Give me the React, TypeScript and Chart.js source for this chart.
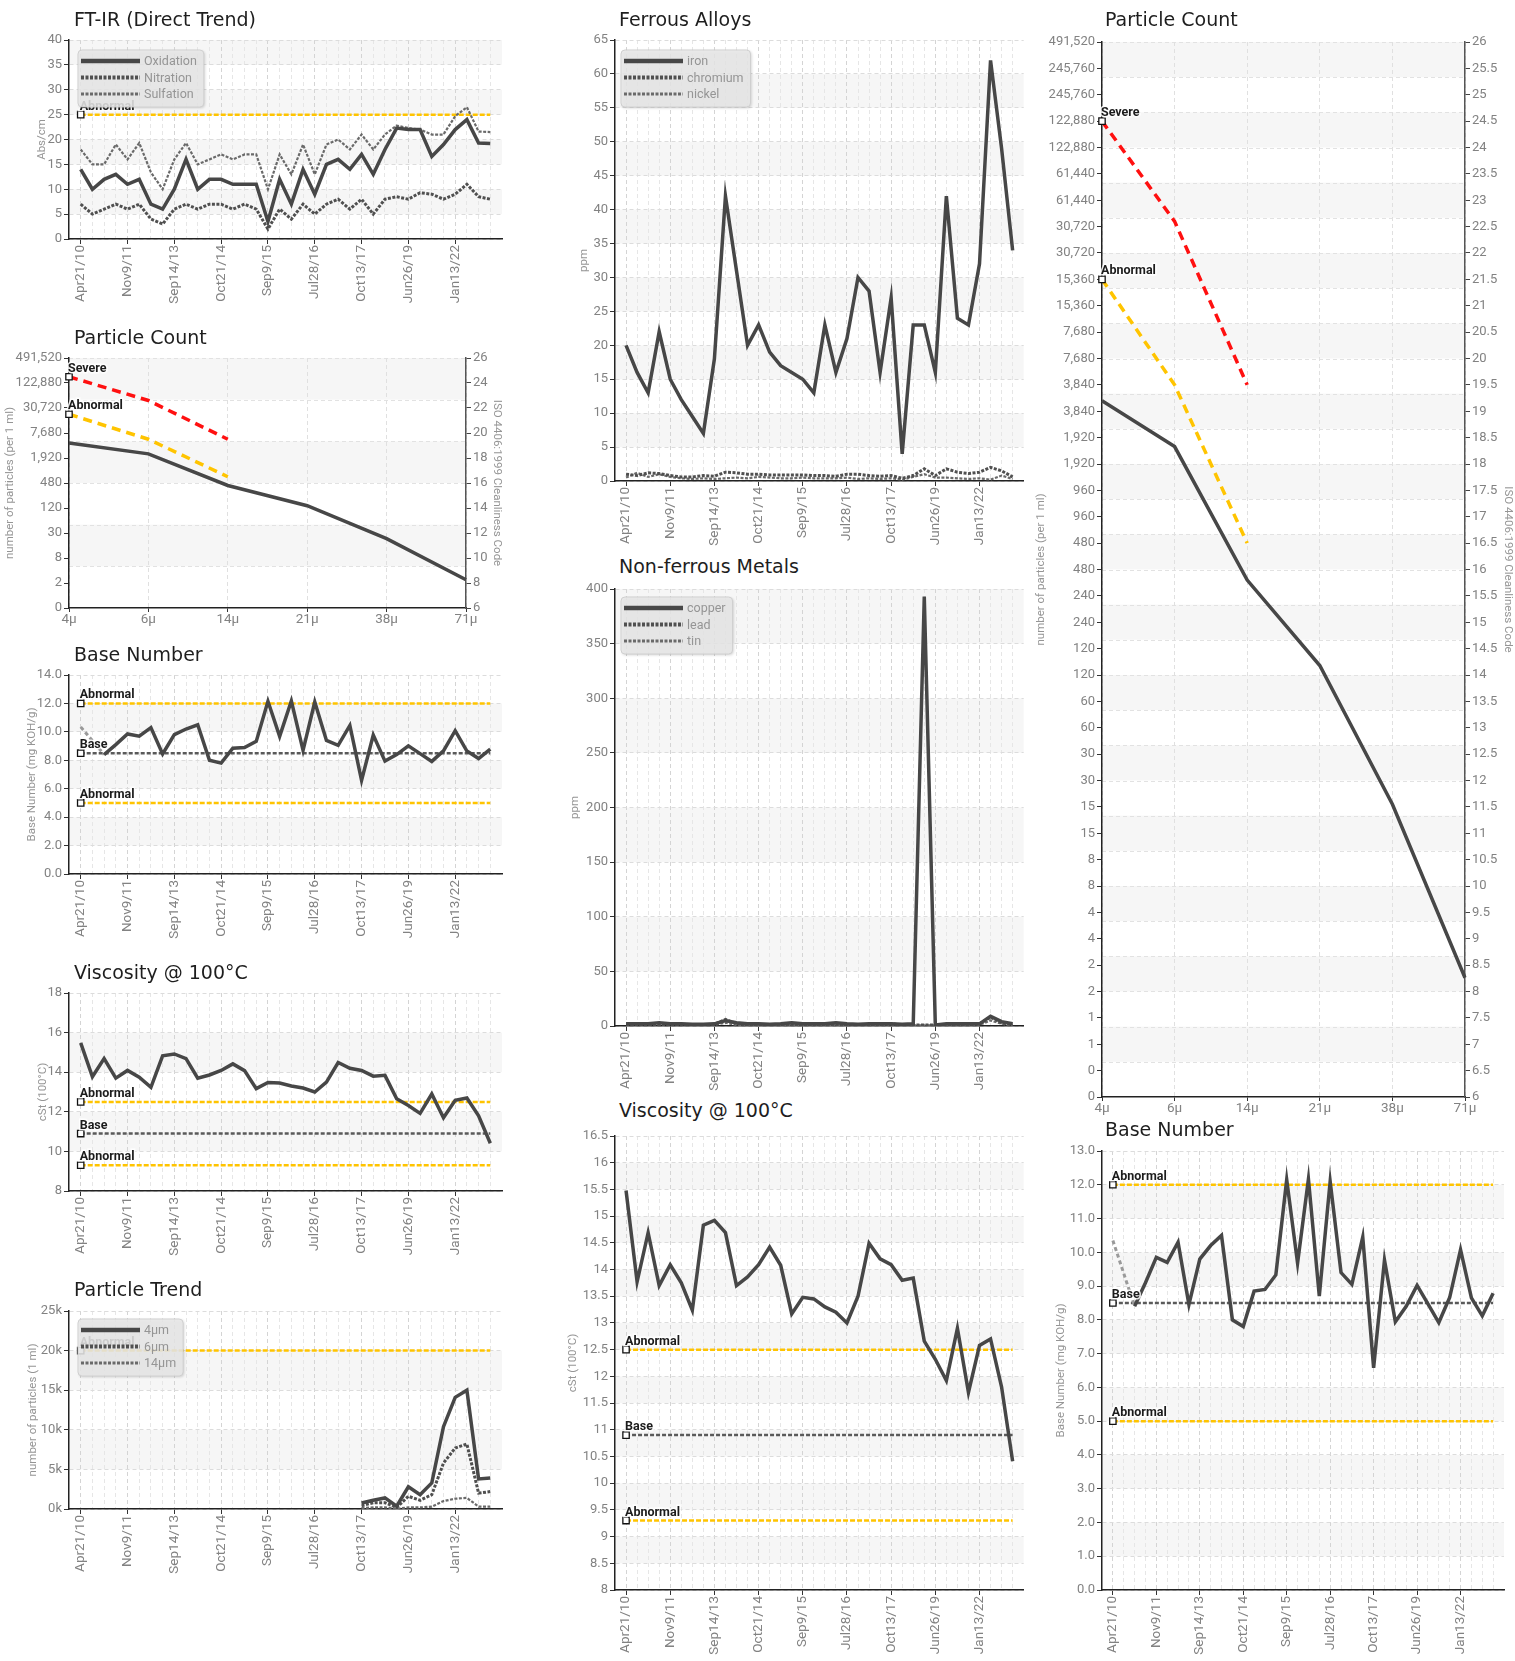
import React, { useEffect, useRef, useState } from 'react';
import { Chart, registerables } from 'chart.js';

Chart.register(...registerables);

const NARROW = 'Roboto, "Liberation Sans Narrow", sans-serif';
const TITLE_FONT = '"DejaVu Sans", Verdana, sans-serif';
const TICK_COLOR = '#828282';
const AXIS_TITLE_COLOR = '#959595';
const DARK = '#474747';
const YELLOW = '#ffc400';
const RED = '#ff1010';

// ---------------- data ----------------
const dateTicks = ['Apr21/10', 'Nov9/11', 'Sep14/13', 'Oct21/14', 'Sep9/15', 'Jul28/16', 'Oct13/17', 'Jun26/19', 'Jan13/22'];
const sampleCount = 36;
const tickEvery = 4;

const ftirOxidation = [14, 10, 12, 13, 11, 12, 7, 6, 10, 16, 10, 12, 12, 11, 11, 11, 3.5, 12, 7, 14, 9, 15, 16, 14, 17, 13, 18, 22.3, 22, 22, 16.6, 19, 22, 24, 19.3, 19.2];
const ftirNitration = [7, 5, 6, 7, 6, 7, 4, 3, 6, 7, 6, 7, 7, 6, 7, 6, 2, 6, 4, 7, 5, 7, 8, 6, 8, 5, 8, 8.5, 8, 9.3, 9, 8, 9, 11, 8.5, 8];
const ftirSulfation = [18, 15, 15, 19, 16, 19.3, 13.4, 10, 16, 19.3, 15, 16, 17, 16, 17, 17, 10, 17, 13, 19, 13, 19, 20, 18, 21, 18, 21, 22.8, 22.3, 22, 21, 21, 24.7, 26.5, 21.6, 21.5];
const ftirAbnormal = 25;

const ironPpm = [20, 16, 13, 22, 15, 12, 9.5, 7, 18, 42, 31, 20, 23, 19, 17, 16, 15, 13, 23, 16, 21, 30, 28, 16, 27, 4, 23, 23, 16, 42, 24, 23, 32, 62, 49, 34];
const chromiumPpm = [1, 0.8, 1.2, 1.1, 0.8, 0.6, 0.6, 0.8, 0.7, 1.3, 1.2, 1.0, 1.0, 0.9, 0.9, 0.9, 0.9, 0.8, 0.8, 0.7, 1.0, 1.0, 0.8, 0.7, 0.8, 0.4, 0.8, 1.8, 0.8, 1.8, 1.3, 1.1, 1.3, 2.0, 1.5, 0.6];
const nickelPpm = [0.5, 1.2, 0.6, 1.0, 0.6, 0.4, 0.3, 0.4, 0.3, 0.4, 0.5, 0.4, 0.6, 0.5, 0.4, 0.4, 0.5, 0.4, 0.4, 0.4, 0.5, 0.3, 0.4, 0.3, 0.4, 0.2, 0.6, 1.0, 0.5, 0.5, 0.4, 0.3, 0.4, 0.2, 0.8, 0.3];

const copperPpm = [2, 2, 2, 3, 2, 2, 1.5, 1.5, 2, 5, 3, 2, 2, 1.5, 2, 3, 2, 2, 2, 3, 2, 1.5, 2, 2, 2, 1.5, 2, 393, 1, 2, 2, 2, 2, 9, 4, 2];
const leadPpm = [1, 1, 1, 1.5, 1, 1, 1, 1, 1.5, 6, 2, 1, 1, 1, 1, 1, 1, 1, 1, 1, 1, 1, 1, 1, 2, 1, 1, 1, 1, 1, 1, 1, 2, 8, 3, 1];
const tinPpm = [0.5, 0.5, 0.5, 1, 0.5, 0.5, 0.5, 0.5, 1, 3, 1, 0.5, 0.5, 0.5, 0.5, 0.5, 0.5, 0.5, 0.5, 0.5, 0.5, 0.5, 0.5, 0.5, 1, 0.5, 0.5, 0.5, 0.5, 0.5, 0.5, 0.5, 1, 5, 2, 0.5];

const baseNumberStart = 2;
const baseNumber = [8.4, 9.1, 9.85, 9.7, 10.3, 8.45, 9.8, 10.2, 10.5, 8.0, 7.8, 8.85, 8.9, 9.33, 12.15, 9.68, 12.17, 8.7, 12.1, 9.4, 9.05, 10.45, 6.58, 9.77, 7.94, 8.4, 9.02, 8.47, 7.92, 8.66, 10.08, 8.65, 8.12, 8.79];
const baseNumberNewOil = [10.35, null, 8.4];
const bnAbnormalHigh = 12;
const bnBase = 8.5;
const bnAbnormalLow = 5;

const viscosity = [15.48, 13.77, 14.69, 13.7, 14.09, 13.75, 13.24, 14.83, 14.92, 14.69, 13.7, 13.86, 14.09, 14.42, 14.08, 13.17, 13.48, 13.45, 13.3, 13.2, 13.0, 13.5, 14.49, 14.2, 14.09, 13.8, 13.84, 12.66, 12.32, 11.92, 12.9, 11.7, 12.58, 12.7, 11.8, 10.41];
const viscAbnormalHigh = 12.5;
const viscBase = 10.9;
const viscAbnormalLow = 9.3;

const trendStart = 24;
const trend4um = [750, 1100, 1400, 350, 2800, 1800, 3300, 10400, 14100, 15000, 3800, 3900];
const trend6um = [400, 800, 800, 200, 1600, 1100, 1800, 5800, 7700, 8200, 2000, 2200];
const trend14um = [100, 200, 200, 50, 200, 200, 300, 1000, 1300, 1400, 300, 300];
const trendAbnormal = 20000;

const particleSizes = ['4µ', '6µ', '14µ', '21µ', '38µ', '71µ'];
const particleIsoCode = [19.2, 18.33, 15.8, 14.18, 11.55, 8.26];
const particleSevere = [24.5, 22.6, 19.5];
const particleAbnormal = [21.5, 19.5, 16.5];
const isoCountLabels = ['0', '2', '8', '30', '120', '480', '1,920', '7,680', '30,720', '122,880', '491,520'];
const isoCountLabelsHalf = ['0', '0', '1', '1', '2', '2', '4', '4', '8', '8', '15', '15', '30', '30', '60', '60', '120', '120', '240', '240', '480', '480', '960', '960', '1,920', '1,920', '3,840', '3,840', '7,680', '7,680', '15,360', '15,360', '30,720', '30,720', '61,440', '61,440', '122,880', '122,880', '245,760', '245,760', '491,520'];

const sampleLabels: string[] = [];
for (let i = 0; i < sampleCount; i++) sampleLabels.push(i % tickEvery === 0 ? dateTicks[i / tickEvery] : '');
const sampleTickValues: number[] = [];
for (let i = 0; i < sampleCount; i++) sampleTickValues.push(i);

// ---------------- plugins ----------------
const bandsPlugin = {
  id: 'bands',
  beforeDraw(chart: any, _a: any, opts: any) {
    if (!opts || !opts.mode) return;
    const ctx = chart.ctx;
    const a = chart.chartArea;
    const y = chart.scales.y;
    ctx.save();
    ctx.fillStyle = 'rgba(0,0,0,0.035)';
    if (opts.mode === 'ticks') {
      const ticks = y.ticks;
      for (let i = 0; i < ticks.length - 1; i++) {
        if (i % 2 === 1) {
          const y1 = y.getPixelForValue(ticks[i].value);
          const y2 = y.getPixelForValue(ticks[i + 1].value);
          ctx.fillRect(a.left, y2, a.right - a.left, y1 - y2);
        }
      }
    } else {
      const n = opts.count;
      const h = (a.bottom - a.top) / n;
      for (let k = 0; k < n; k += 2) ctx.fillRect(a.left, a.top + k * h, a.right - a.left, h);
      ctx.strokeStyle = '#e2e2e2';
      ctx.lineWidth = 1;
      ctx.setLineDash([4, 3]);
      for (let k = 0; k < n; k++) {
        const yy = Math.round(a.top + k * h) + 0.5;
        ctx.beginPath();
        ctx.moveTo(a.left, yy);
        ctx.lineTo(a.right, yy);
        ctx.stroke();
      }
    }
    ctx.restore();
  },
};

const thresholdLabelPlugin = {
  id: 'thr',
  afterDatasetsDraw(chart: any, _a: any, opts: any) {
    const items = (opts && opts.items) || [];
    const ctx = chart.ctx;
    const scales = chart.scales;
    ctx.save();
    ctx.font = `bold 12.5px ${NARROW}`;
    ctx.textAlign = 'left';
    ctx.textBaseline = 'alphabetic';
    items.forEach((it: any) => {
      const px = scales.x.getPixelForValue(it.x);
      const py = scales.y.getPixelForValue(it.y);
      ctx.lineWidth = 3;
      ctx.strokeStyle = 'rgba(255,255,255,0.85)';
      ctx.strokeText(it.label, px - 1, py - 5);
      ctx.fillStyle = '#1c1c1c';
      ctx.fillText(it.label, px - 1, py - 5);
    });
    ctx.restore();
  },
};

const boxLegendPlugin = {
  id: 'boxLegend',
  afterDraw(chart: any, _a: any, opts: any) {
    if (!opts || !opts.entries || !opts.entries.length) return;
    const ctx = chart.ctx;
    const a = chart.chartArea;
    ctx.save();
    ctx.font = `12.5px ${NARROW}`;
    let textW = 0;
    opts.entries.forEach((e: any) => {
      textW = Math.max(textW, ctx.measureText(e.label).width);
    });
    const x = a.left + opts.dx;
    const y = a.top + opts.dy;
    const w = 66 + textW + 7;
    const h = 11 + (opts.entries.length - 1) * 16.5 + 13;
    const rr = 4;
    ctx.shadowColor = 'rgba(0,0,0,0.22)';
    ctx.shadowBlur = 3;
    ctx.shadowOffsetX = 1;
    ctx.shadowOffsetY = 1;
    ctx.beginPath();
    ctx.moveTo(x + rr, y);
    ctx.lineTo(x + w - rr, y);
    ctx.quadraticCurveTo(x + w, y, x + w, y + rr);
    ctx.lineTo(x + w, y + h - rr);
    ctx.quadraticCurveTo(x + w, y + h, x + w - rr, y + h);
    ctx.lineTo(x + rr, y + h);
    ctx.quadraticCurveTo(x, y + h, x, y + h - rr);
    ctx.lineTo(x, y + rr);
    ctx.quadraticCurveTo(x, y, x + rr, y);
    ctx.closePath();
    ctx.fillStyle = 'rgba(233,233,233,0.86)';
    ctx.fill();
    ctx.shadowColor = 'rgba(0,0,0,0)';
    ctx.shadowBlur = 0;
    ctx.strokeStyle = 'rgba(205,205,205,0.9)';
    ctx.lineWidth = 1;
    ctx.stroke();
    opts.entries.forEach((e: any, i: number) => {
      const cy = y + 11 + i * 16.5;
      ctx.beginPath();
      ctx.setLineDash(e.dash || []);
      ctx.lineWidth = e.width + 1;
      ctx.strokeStyle = e.color;
      ctx.moveTo(x + 3, cy);
      ctx.lineTo(x + 62, cy);
      ctx.stroke();
      ctx.setLineDash([]);
      ctx.fillStyle = '#959595';
      ctx.textBaseline = 'middle';
      ctx.fillText(e.label, x + 66, cy + 1);
    });
    ctx.restore();
  },
};

// ---------------- config builders ----------------
function yTitle(text: string, titleX: number, cx: number) {
  return {
    display: true,
    text,
    color: AXIS_TITLE_COLOR,
    font: { family: NARROW, size: 11.5 },
    padding: { top: Math.max(0, titleX - cx - 6.9), bottom: 0 },
  };
}

function markerRadius(c: any) {
  return c.dataIndex === 0 ? 4.5 : 0;
}

function timeConfig(p: any) {
  const { cx, cy, cw, ch, l, t, r, b } = p.box;
  const datasets: any[] = [];
  p.series.forEach((s: any) => {
    const pts: any[] = [];
    s.values.forEach((v: any, i: number) => pts.push({ x: (s.start || 0) + i, y: v }));
    datasets.push({
      label: s.label,
      data: pts,
      borderColor: s.color,
      borderWidth: s.width,
      borderDash: s.dash || [],
      pointRadius: 0,
      tension: 0,
      spanGaps: !!s.spanGaps,
      fill: false,
    });
  });
  (p.thresholds || []).forEach((th: any) =>
    datasets.push({
      label: th.label,
      data: [
        { x: 0, y: th.value },
        { x: sampleCount - 1, y: th.value },
      ],
      borderColor: th.color,
      borderWidth: 2.5,
      borderDash: th.dash,
      pointRadius: markerRadius,
      pointStyle: 'rect',
      pointBackgroundColor: '#fff',
      pointBorderColor: '#111',
      pointBorderWidth: 1.3,
      tension: 0,
      fill: false,
    })
  );
  return {
    type: 'line',
    data: { datasets },
    options: {
      responsive: false,
      animation: false,
      events: [],
      layout: { padding: { left: 0, top: t - cy, right: cx + cw - r, bottom: 0 } },
      plugins: {
        legend: { display: false },
        tooltip: { enabled: false },
        bands: { mode: 'ticks' },
        thr: { items: (p.thresholds || []).map((th: any) => ({ x: 0, y: th.value, label: th.label })) },
        boxLegend: p.legend || { entries: [] },
      },
      scales: {
        x: {
          type: 'linear',
          min: -1,
          max: sampleCount,
          afterBuildTicks: (sc: any) => {
            sc.ticks = sampleTickValues.map((v) => ({ value: v }));
          },
          afterFit: (sc: any) => {
            sc.height = cy + ch - b;
          },
          ticks: {
            autoSkip: false,
            maxRotation: 90,
            minRotation: 90,
            padding: 1,
            font: { family: NARROW, size: 13.5 },
            color: TICK_COLOR,
            callback: (v: any) => {
              const s = sampleLabels[Math.round(v)];
              return s === undefined ? '' : s;
            },
          },
          grid: {
            color: (c: any) => (c.tick && Math.round(c.tick.value) % tickEvery === 0 ? '#d4d4d4' : '#e6e6e6'),
            tickColor: (c: any) => (c.tick && Math.round(c.tick.value) % tickEvery === 0 ? '#333' : 'rgba(0,0,0,0)'),
            tickLength: 5,
            lineWidth: 1,
          },
          border: { display: true, color: '#222', width: 1.5, dash: [4, 3] },
        },
        y: {
          type: 'linear',
          min: p.y.min,
          max: p.y.max,
          afterFit: (sc: any) => {
            sc.width = l - cx;
          },
          ticks: {
            stepSize: p.y.step,
            maxTicksLimit: 100,
            autoSkip: false,
            padding: 2,
            font: { family: NARROW, size: 13 },
            color: TICK_COLOR,
            callback: p.y.fmt,
          },
          grid: { color: '#dcdcdc', tickColor: '#333', tickLength: 5, lineWidth: 1 },
          border: { display: true, color: '#222', width: 1.5, dash: [4, 3] },
          title: yTitle(p.y.title, p.y.titleX, cx),
        },
      },
    },
    plugins: [bandsPlugin, thresholdLabelPlugin, boxLegendPlugin],
  };
}

function particleConfig(p: any) {
  const { cx, cy, cw, ch, l, t, r, b } = p.box;
  const labelFor = (v: number) => {
    const s = p.labels[Math.round((v - 6) / p.step)];
    return s === undefined ? '' : s;
  };
  return {
    type: 'line',
    data: {
      labels: particleSizes,
      datasets: [
        { label: 'count', data: particleIsoCode, borderColor: DARK, borderWidth: 3.5, pointRadius: 0, tension: 0, fill: false },
        {
          label: 'Severe',
          data: particleSevere,
          borderColor: RED,
          borderWidth: 3.5,
          borderDash: [9, 6],
          pointRadius: markerRadius,
          pointStyle: 'rect',
          pointBackgroundColor: '#fff',
          pointBorderColor: '#111',
          pointBorderWidth: 1.3,
          tension: 0,
          fill: false,
        },
        {
          label: 'Abnormal',
          data: particleAbnormal,
          borderColor: YELLOW,
          borderWidth: 3.5,
          borderDash: [9, 6],
          pointRadius: markerRadius,
          pointStyle: 'rect',
          pointBackgroundColor: '#fff',
          pointBorderColor: '#111',
          pointBorderWidth: 1.3,
          tension: 0,
          fill: false,
        },
      ],
    },
    options: {
      responsive: false,
      animation: false,
      events: [],
      layout: { padding: { left: 0, top: t - cy, right: 0, bottom: 0 } },
      plugins: {
        legend: { display: false },
        tooltip: { enabled: false },
        bands: { mode: 'equal', count: p.bands },
        thr: {
          items: [
            { x: 0, y: particleSevere[0], label: 'Severe' },
            { x: 0, y: particleAbnormal[0], label: 'Abnormal' },
          ],
        },
      },
      scales: {
        x: {
          type: 'category',
          offset: false,
          afterFit: (sc: any) => {
            sc.height = cy + ch - b;
          },
          ticks: { maxRotation: 0, minRotation: 0, padding: 0, font: { family: NARROW, size: 13.5 }, color: TICK_COLOR },
          grid: { color: '#e0e0e0', tickColor: '#333', tickLength: 4 },
          border: { display: true, color: '#222', width: 1.5, dash: [4, 3] },
        },
        y: {
          type: 'linear',
          position: 'left',
          min: 6,
          max: 26,
          afterFit: (sc: any) => {
            sc.width = l - cx;
          },
          ticks: {
            stepSize: p.step,
            maxTicksLimit: 100,
            autoSkip: false,
            padding: 2,
            font: { family: NARROW, size: 13 },
            color: TICK_COLOR,
            callback: (v: any) => labelFor(v),
          },
          grid: { drawOnChartArea: false, tickColor: '#333', tickLength: 5 },
          border: { display: true, color: '#222', width: 1.5 },
          title: yTitle('number of particles (per 1 ml)', p.leftTitleX, cx),
        },
        y2: {
          type: 'linear',
          position: 'right',
          min: 6,
          max: 26,
          afterFit: (sc: any) => {
            sc.width = cx + cw - r;
          },
          ticks: {
            stepSize: p.step,
            maxTicksLimit: 100,
            autoSkip: false,
            padding: 2,
            font: { family: NARROW, size: 13 },
            color: TICK_COLOR,
            callback: (v: any) => String(Math.round(v * 10) / 10),
          },
          grid: { drawOnChartArea: false, tickColor: '#444', tickLength: 5 },
          border: { display: true, color: '#555', width: 1.5 },
          title: {
            display: true,
            text: 'ISO 4406:1999 Cleanliness Code',
            color: AXIS_TITLE_COLOR,
            font: { family: NARROW, size: 11.5 },
            padding: { top: Math.max(0, cx + cw - p.rightTitleX - 6.9), bottom: 0 },
          },
        },
      },
    },
    plugins: [bandsPlugin, thresholdLabelPlugin],
  };
}

// ---------------- panels ----------------
const fmtInt = (v: any) => String(v);
const fmt1 = (v: any) => Number(v).toFixed(1);
const fmtK = (v: any) => `${Math.round(v / 1000)}k`;

const solidEntry = (label: string) => ({ label, color: DARK, width: 3.5, dash: [] as number[] });
const dashEntry = (label: string) => ({ label, color: '#505050', width: 3, dash: [3, 1.5] });
const thinEntry = (label: string) => ({ label, color: '#6a6a6a', width: 2.2, dash: [3, 1.5] });

const panels: any[] = [
  {
    title: 'FT-IR (Direct Trend)',
    titlePos: { x: 74, y: 9.5 },
    box: { cx: 0, cy: 28, cw: 515, ch: 282, l: 69, t: 40, r: 502, b: 239 },
    kind: 'time',
    y: { min: 0, max: 40, step: 5, fmt: fmtInt, title: 'Abs/cm', titleX: 41.7 },
    series: [
      { label: 'Oxidation', values: ftirOxidation, color: DARK, width: 3.5 },
      { label: 'Nitration', values: ftirNitration, color: '#505050', width: 3, dash: [3, 1.5] },
      { label: 'Sulfation', values: ftirSulfation, color: '#6a6a6a', width: 2.2, dash: [3, 1.5] },
    ],
    thresholds: [{ label: 'Abnormal', value: ftirAbnormal, color: YELLOW, dash: [5, 2] }],
    legend: { dx: 9, dy: 10, entries: [solidEntry('Oxidation'), dashEntry('Nitration'), thinEntry('Sulfation')] },
  },
  {
    title: 'Particle Count',
    titlePos: { x: 74, y: 328 },
    box: { cx: 0, cy: 346, cw: 515, ch: 289, l: 69, t: 358, r: 466, b: 608 },
    kind: 'particle',
    step: 2,
    labels: isoCountLabels,
    bands: 6,
    leftTitleX: 10,
    rightTitleX: 497,
  },
  {
    title: 'Base Number',
    titlePos: { x: 74, y: 645 },
    box: { cx: 0, cy: 663, cw: 515, ch: 282, l: 69, t: 675, r: 502, b: 874 },
    kind: 'time',
    y: { min: 0, max: 14, step: 2, fmt: fmt1, title: 'Base Number (mg KOH/g)', titleX: 31.7 },
    series: [
      { label: 'Base Number', values: baseNumber, start: baseNumberStart, color: DARK, width: 3.5 },
      { label: 'New oil', values: baseNumberNewOil, color: '#9a9a9a', width: 3, dash: [4, 3], spanGaps: true },
    ],
    thresholds: [
      { label: 'Abnormal', value: bnAbnormalHigh, color: YELLOW, dash: [5, 2] },
      { label: 'Base', value: bnBase, color: '#5a5a5a', dash: [4, 2] },
      { label: 'Abnormal', value: bnAbnormalLow, color: YELLOW, dash: [5, 2] },
    ],
  },
  {
    title: 'Viscosity @ 100°C',
    titlePos: { x: 74, y: 963 },
    box: { cx: 0, cy: 981, cw: 515, ch: 282, l: 69, t: 993, r: 502, b: 1191 },
    kind: 'time',
    y: { min: 8, max: 18, step: 2, fmt: fmtInt, title: 'cSt (100°C)', titleX: 42.7 },
    series: [{ label: 'Viscosity', values: viscosity, color: DARK, width: 3.5 }],
    thresholds: [
      { label: 'Abnormal', value: viscAbnormalHigh, color: YELLOW, dash: [5, 2] },
      { label: 'Base', value: viscBase, color: '#5a5a5a', dash: [4, 2] },
      { label: 'Abnormal', value: viscAbnormalLow, color: YELLOW, dash: [5, 2] },
    ],
  },
  {
    title: 'Particle Trend',
    titlePos: { x: 74, y: 1279.5 },
    box: { cx: 0, cy: 1299, cw: 515, ch: 282, l: 69, t: 1311, r: 502, b: 1509 },
    kind: 'time',
    y: { min: 0, max: 25000, step: 5000, fmt: fmtK, title: 'number of particles (1 ml)', titleX: 33 },
    series: [
      { label: '4µm', values: trend4um, start: trendStart, color: DARK, width: 3.5 },
      { label: '6µm', values: trend6um, start: trendStart, color: '#505050', width: 3, dash: [3, 1.5] },
      { label: '14µm', values: trend14um, start: trendStart, color: '#6a6a6a', width: 2.2, dash: [3, 1.5] },
    ],
    thresholds: [{ label: 'Abnormal', value: trendAbnormal, color: YELLOW, dash: [5, 2] }],
    legend: { dx: 9, dy: 8, entries: [solidEntry('4µm'), dashEntry('6µm'), thinEntry('14µm')] },
  },
  {
    title: 'Ferrous Alloys',
    titlePos: { x: 619, y: 9.5 },
    box: { cx: 560, cy: 28, cw: 470, ch: 523, l: 615, t: 40, r: 1024, b: 481 },
    kind: 'time',
    y: { min: 0, max: 65, step: 5, fmt: fmtInt, title: 'ppm', titleX: 584 },
    series: [
      { label: 'iron', values: ironPpm, color: DARK, width: 3.5 },
      { label: 'chromium', values: chromiumPpm, color: '#505050', width: 3, dash: [3, 1.5] },
      { label: 'nickel', values: nickelPpm, color: '#6a6a6a', width: 2.2, dash: [3, 1.5] },
    ],
    thresholds: [],
    legend: { dx: 6, dy: 10, entries: [solidEntry('iron'), dashEntry('chromium'), thinEntry('nickel')] },
  },
  {
    title: 'Non-ferrous Metals',
    titlePos: { x: 619, y: 557 },
    box: { cx: 560, cy: 577, cw: 470, ch: 522, l: 615, t: 589, r: 1024, b: 1026 },
    kind: 'time',
    y: { min: 0, max: 400, step: 50, fmt: fmtInt, title: 'ppm', titleX: 575 },
    series: [
      { label: 'copper', values: copperPpm, color: DARK, width: 3.5 },
      { label: 'lead', values: leadPpm, color: '#505050', width: 3, dash: [3, 1.5] },
      { label: 'tin', values: tinPpm, color: '#6a6a6a', width: 2.2, dash: [3, 1.5] },
    ],
    thresholds: [],
    legend: { dx: 6, dy: 8, entries: [solidEntry('copper'), dashEntry('lead'), thinEntry('tin')] },
  },
  {
    title: 'Viscosity @ 100°C',
    titlePos: { x: 619, y: 1101 },
    box: { cx: 560, cy: 1124, cw: 470, ch: 537, l: 615, t: 1136, r: 1024, b: 1590 },
    kind: 'time',
    y: { min: 8, max: 16.5, step: 0.5, fmt: fmtInt, title: 'cSt (100°C)', titleX: 573 },
    series: [{ label: 'Viscosity', values: viscosity, color: DARK, width: 3.5 }],
    thresholds: [
      { label: 'Abnormal', value: viscAbnormalHigh, color: YELLOW, dash: [5, 2] },
      { label: 'Base', value: viscBase, color: '#5a5a5a', dash: [4, 2] },
      { label: 'Abnormal', value: viscAbnormalLow, color: YELLOW, dash: [5, 2] },
    ],
  },
  {
    title: 'Particle Count',
    titlePos: { x: 1105, y: 9.5 },
    box: { cx: 1020, cy: 30, cw: 495, ch: 1089, l: 1102, t: 42, r: 1465, b: 1097 },
    kind: 'particle',
    step: 0.5,
    labels: isoCountLabelsHalf,
    bands: 30,
    leftTitleX: 1041,
    rightTitleX: 1509,
  },
  {
    title: 'Base Number',
    titlePos: { x: 1105, y: 1120 },
    box: { cx: 1020, cy: 1139, cw: 495, ch: 522, l: 1102, t: 1151, r: 1504, b: 1590 },
    kind: 'time',
    y: { min: 0, max: 13, step: 1, fmt: fmt1, title: 'Base Number (mg KOH/g)', titleX: 1061 },
    series: [
      { label: 'Base Number', values: baseNumber, start: baseNumberStart, color: DARK, width: 3.5 },
      { label: 'New oil', values: baseNumberNewOil, color: '#9a9a9a', width: 3, dash: [4, 3], spanGaps: true },
    ],
    thresholds: [
      { label: 'Abnormal', value: bnAbnormalHigh, color: YELLOW, dash: [5, 2] },
      { label: 'Base', value: bnBase, color: '#5a5a5a', dash: [4, 2] },
      { label: 'Abnormal', value: bnAbnormalLow, color: YELLOW, dash: [5, 2] },
    ],
  },
];

function Panel({ p }: { p: any }) {
  const ref = useRef<HTMLCanvasElement | null>(null);
  const [err, setErr] = useState('');
  useEffect(() => {
    let chart: any = null;
    try {
      const cfg: any = p.kind === 'particle' ? particleConfig(p) : timeConfig(p);
      chart = new Chart(ref.current as HTMLCanvasElement, cfg);
    } catch (e: any) {
      setErr(String((e && e.stack) || e));
    }
    return () => {
      if (chart) chart.destroy();
    };
  }, []);
  const { cx, cy, cw, ch } = p.box;
  return (
    <>
      <canvas ref={ref} width={cw} height={ch} style={{ position: 'absolute', left: cx, top: cy, width: cw, height: ch }} />
      <div
        style={{
          position: 'absolute',
          left: p.titlePos.x,
          top: p.titlePos.y,
          fontFamily: TITLE_FONT,
          fontSize: 19,
          lineHeight: '19px',
          color: '#1e1e1e',
          whiteSpace: 'nowrap',
        }}
      >
        {p.title}
      </div>
      {err ? (
        <div style={{ position: 'absolute', left: cx + 60, top: cy + 40, width: 400, fontSize: 10, color: 'red', fontFamily: 'monospace', whiteSpace: 'pre-wrap' }}>
          {err}
        </div>
      ) : null}
    </>
  );
}

export default function App() {
  return (
    <div style={{ position: 'absolute', left: 0, top: 0, width: 1515, height: 1661, overflow: 'hidden', background: '#fff' }}>
      {panels.map((p, i) => (
        <Panel key={i} p={p} />
      ))}
    </div>
  );
}
